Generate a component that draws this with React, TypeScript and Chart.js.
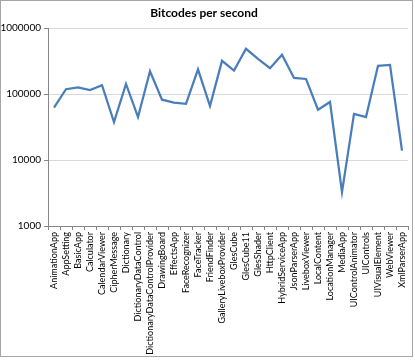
import React, { useEffect, useRef } from "react";
import { Chart, registerables } from "chart.js";

Chart.register(...registerables);

const categories: string[] = [
  "AnimationApp", "AppSetting", "BasicApp", "Calculator", "CalendarViewer",
  "CipherMessage", "Dictionary", "DictionaryDataControl", "DictionaryDataControlProvider",
  "DrawingBoard", "EffectsApp", "FaceRecognizer", "FaceTracker", "FriendFinder",
  "GalleryLiveboxProvider", "GlesCube", "GlesCube11", "GlesShader", "HttpClient",
  "HybridServiceApp", "JsonParserApp", "LiveboxViewer", "LocalContent", "LocationManager",
  "MediaApp", "UIControlAnimator", "UIControls", "UIVisualElement", "WebViewer", "XmlParserApp",
];

const bitcodesPerSecond: number[] = [
  62000, 118000, 126000, 115000, 136000,
  37500, 142000, 44700, 221000,
  82000, 74000, 71000, 236000, 65600,
  318000, 226000, 484000, 341000, 246000,
  393000, 175000, 169000, 57700, 75600,
  3260, 50100, 44700, 267000, 276000, 13900,
];

const yTicks: number[] = [1000, 10000, 100000, 1000000];

const FONT = "Lato, 'Open Sans', sans-serif";

const borderPlugin = {
  id: "outerBorder",
  afterDraw(chart: any) {
    const ctx = chart.ctx;
    ctx.save();
    ctx.strokeStyle = "#a6a6a6";
    ctx.lineWidth = 1;
    ctx.strokeRect(0.5, 0.5, 412, 356);
    ctx.restore();
  },
};

export default function App() {
  const ref = useRef<HTMLCanvasElement | null>(null);

  useEffect(() => {
    document.body.style.margin = "0";
    if (!ref.current) return;
    const chart = new Chart(ref.current, {
      type: "line",
      data: {
        labels: categories,
        datasets: [
          {
            label: "Bitcodes per second",
            data: bitcodesPerSecond,
            borderColor: "#4a7ebb",
            backgroundColor: "#4a7ebb",
            borderWidth: 2.25,
            pointRadius: 0,
            tension: 0,
            fill: false,
          },
        ],
      },
      options: {
        animation: false,
        responsive: false,
        maintainAspectRatio: false,
        layout: { padding: { top: 0, right: 7, bottom: 0, left: 0 } },
        plugins: {
          legend: { display: false },
          tooltip: { enabled: false },
          title: {
            display: true,
            text: "Bitcodes per second",
            color: "#000000",
            font: { family: FONT, size: 12, weight: "bold" },
            padding: { top: 6, bottom: 7.6 },
          },
        },
        scales: {
          x: {
            type: "category",
            offset: true,
            grid: {
              offset: true,
              drawOnChartArea: false,
              drawTicks: true,
              tickLength: 4,
              color: "#868686",
            },
            border: { color: "#868686", width: 1 },
            ticks: {
              autoSkip: false,
              maxRotation: 90,
              minRotation: 90,
              color: "#000000",
              padding: 2,
              font: { family: FONT, size: 9 },
            },
            afterFit(scale: any) {
              scale.height = 134;
            },
          },
          y: {
            type: "logarithmic",
            min: 1000,
            max: 1000000,
            afterBuildTicks(scale: any) {
              scale.ticks = yTicks.map((v) => ({ value: v }));
            },
            grid: {
              color: "#d9d9d9",
              lineWidth: 1,
              drawTicks: true,
              tickLength: 4,
              tickColor: "#868686",
            },
            border: { color: "#868686", width: 1 },
            ticks: {
              color: "#000000",
              padding: 3,
              font: { family: FONT, size: 10 },
              callback: (v: any) => String(v),
            },
            afterFit(scale: any) {
              scale.width = 48;
            },
          },
        },
      },
      plugins: [borderPlugin],
    });
    return () => chart.destroy();
  }, []);

  return (
    <div style={{ width: 415, height: 360 }}>
      <canvas ref={ref} width={415} height={360} style={{ display: "block" }} />
    </div>
  );
}
